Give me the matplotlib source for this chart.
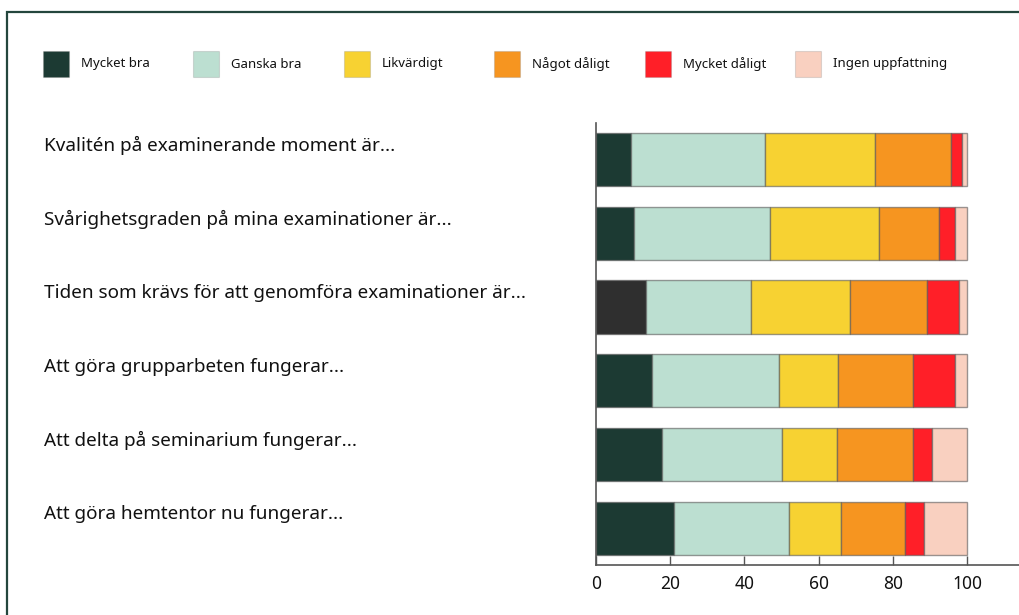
import matplotlib
matplotlib.use("Agg")
import matplotlib.pyplot as plt
import matplotlib.transforms as mtransforms
from matplotlib.patches import Rectangle
import numpy as np

plt.rcParams['font.family'] = ['Noto Sans', 'DejaVu Sans']

questions = [
    "Kvalitén på examinerande moment är...",
    "Svårighetsgraden på mina examinationer är...",
    "Tiden som krävs för att genomföra examinationer är...",
    "Att göra grupparbeten fungerar...",
    "Att delta på seminarium fungerar...",
    "Att göra hemtentor nu fungerar...",
]
series_names = ["Mycket bra", "Ganska bra", "Likvärdigt", "Något dåligt",
                "Mycket dåligt", "Ingen uppfattning"]
mycket_bra    = [9.4, 10.2, 13.4, 15.0, 17.8, 21.0]
ganska_bra    = [36.2, 36.6, 28.4, 34.3, 32.3, 30.9]
likvardigt    = [29.6, 29.4, 26.7, 15.8, 14.9, 14.1]
nagot_daligt  = [20.5, 16.2, 20.8, 20.3, 20.4, 17.3]
mycket_daligt = [3.0, 4.4, 8.5, 11.4, 5.3, 5.0]
ingen         = [1.3, 3.2, 2.2, 3.2, 9.3, 11.7]
series = [mycket_bra, ganska_bra, likvardigt, nagot_daligt, mycket_daligt, ingen]
colors = ["#1c3a33", "#bcdfd1", "#f7d232", "#f69520", "#ff1f28", "#f9d0c0"]
# the third row's first segment is drawn in dark grey in the original
first_series_row_colors = ["#1c3a33", "#1c3a33", "#2f2f2f", "#1c3a33", "#1c3a33", "#1c3a33"]
xticks = [0, 20, 40, 60, 80, 100]

W, H = 1019, 615
fig = plt.figure(figsize=(W / 100, H / 100), dpi=100)

# outer frame
fig.patches.append(Rectangle((7 / W, -0.1), 1.2, (H - 12) / H + 0.1, transform=fig.transFigure,
                             fill=False, edgecolor="#24463d", linewidth=1.6))

ax = fig.add_axes([596 / W, 50 / H, 440 / W, 442.3 / H])
y = np.arange(len(questions))
left = np.zeros(len(questions))
for i, (vals, c) in enumerate(zip(series, colors)):
    col = first_series_row_colors if i == 0 else c
    ax.barh(y, vals, left=left, height=0.72, color=col,
            edgecolor=(0.35, 0.35, 0.35, 0.6), linewidth=1.0)
    left += np.array(vals)

ax.set_ylim(5.5, -0.5)
ax.set_xlim(0, 440 / 3.71)
ax.set_yticks([])
ax.set_xticks(xticks)
ax.tick_params(axis='x', direction='in', length=6.5, width=1.0, color="#555555",
               labelsize=12.5, pad=7, labelcolor="#111111")
for s in ['top', 'right']:
    ax.spines[s].set_visible(False)
for s in ['left', 'bottom']:
    ax.spines[s].set_color("#555555")
    ax.spines[s].set_linewidth(1.2)

# question labels
trans = mtransforms.blended_transform_factory(fig.transFigure, ax.transData)
for yi, q in zip(y, questions):
    ax.annotate(q, xy=(44 / W, yi), xycoords=trans, xytext=(0, 10),
                textcoords='offset points', ha='left', va='center',
                fontsize=13.6, color="#111111", annotation_clip=False)

# legend
for i, (name, c) in enumerate(zip(series_names, colors)):
    x0 = (43 + 150.4 * i) / W
    fig.patches.append(Rectangle((x0, (H - 77) / H), 26 / W, 26 / H,
                                 transform=fig.transFigure, facecolor=c,
                                 edgecolor=(0.5, 0.5, 0.5, 0.25), linewidth=0.8))
    fig.text(x0 + 38 / W, (H - 64) / H, name, ha='left', va='center',
             fontsize=9.5, color="#111111")

fig.savefig("out.png", dpi=100)
